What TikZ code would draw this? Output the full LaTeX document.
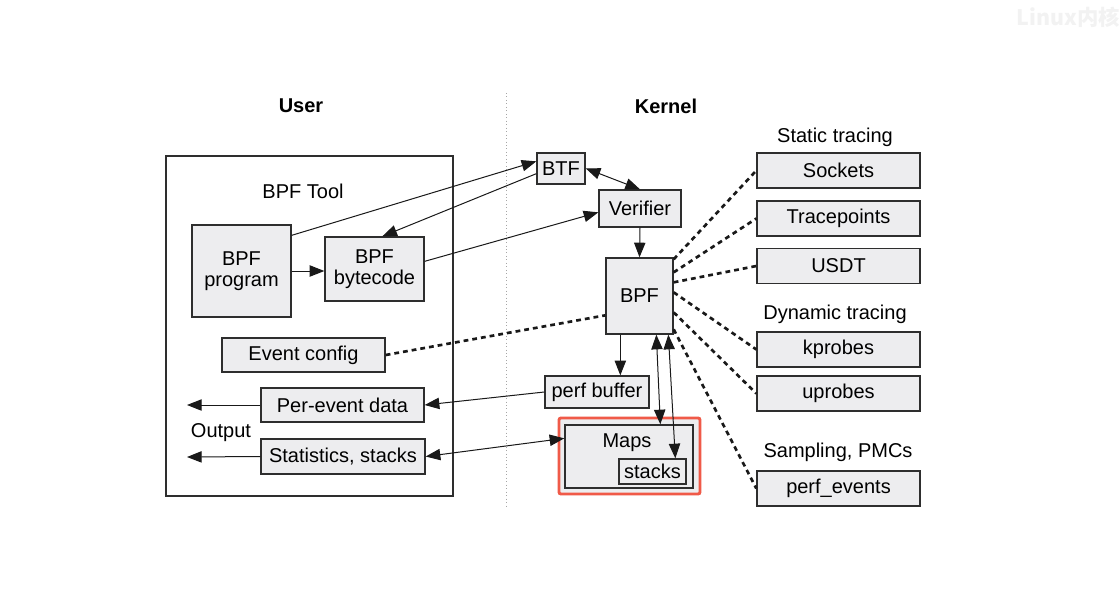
\documentclass[tikz,border=0pt]{standalone}
\usepackage{fontspec}
\setmainfont{Liberation Sans}
\newfontfamily\cjkfont{Noto Sans CJK SC}
\usetikzlibrary{arrows.meta,calc}
\definecolor{boxfill}{HTML}{EDEDEF}
\definecolor{boxline}{HTML}{2E2E2E}
\definecolor{hl}{HTML}{F05A48}
\definecolor{wm}{HTML}{F2F2F2}
\tikzset{
  box/.style={draw=boxline, fill=boxfill, line width=1pt, inner sep=0pt, align=center,
    font=\fontsize{15}{16}\selectfont},
  lbl/.style={inner sep=0pt, font=\fontsize{15}{16}\selectfont},
  conn/.style={line width=0.75pt, draw=black!90},
  tipend/.style={-{Triangle[length=11pt,width=8.5pt]}},
  tipboth/.style={{Triangle[length=11pt,width=8.5pt]}-{Triangle[length=11pt,width=8.5pt]}},
  probe/.style={line width=2pt, dash pattern=on 3.6pt off 3pt, draw=black!90},
  rbox/.style={box, minimum width=122.25pt, minimum height=26.25pt},
}
\begin{document}
\begin{tikzpicture}[x=0.75pt, y=-0.75pt]
\useasboundingbox (0,0) rectangle (1120,604);
\fill[white] (0,0) rectangle (1120,604);

% watermark
\node[anchor=east, inner sep=0pt, text=wm, font=\cjkfont\fontsize{16}{18}\selectfont\bfseries] (wmark) at (1120,17) {Linux内核};

% headings
\node[lbl, font=\fontsize{15}{16}\selectfont\bfseries] (user) at (301,106) {User};
\node[lbl, font=\fontsize{15}{16}\selectfont\bfseries] (kernel) at (666,106) {Kernel};

% divider
\coordinate (divtop) at (506,93);
\coordinate (divbot) at (506,508);
\draw[black!35, line width=0.6pt, dotted] (divtop) -- (divbot);

% BPF tool container
\node[draw=boxline, line width=1pt, fill=white, minimum width=215.25pt, minimum height=255pt, inner sep=0pt] (tool) at (309.5,326) {};
\node[lbl] (tooltitle) at (303,191) {BPF Tool};

\node[box, minimum width=74.25pt, minimum height=69pt] (prog) at (241.5,271) {BPF\\program};
\node[box, minimum width=74.25pt, minimum height=48pt] (bytecode) at (374.5,269) {BPF\\bytecode};
\node[box, minimum width=122.25pt, minimum height=25.5pt] (evcfg) at (303.5,355) {Event config};
\node[box, minimum width=122.25pt, minimum height=25.5pt] (perev) at (342.5,405) {Per-event data};
\node[box, minimum width=123pt, minimum height=26.25pt] (stats) at (343,456.5) {Statistics, stacks};
\node[lbl] (output) at (221,433) {Output};
\coordinate (out1) at (187,405);
\coordinate (out2) at (187,457);

% kernel side
\node[box, minimum width=36pt, minimum height=23.25pt] (btf) at (561,168.5) {BTF};
\node[box, minimum width=61.5pt, minimum height=27.75pt] (verifier) at (640,208.5) {Verifier};
\node[box, minimum width=50.25pt, minimum height=57pt] (bpf) at (639.5,296) {BPF};
\node[box, minimum width=78pt, minimum height=24pt] (perfbuf) at (597,392) {perf buffer};
\node[draw=hl, line width=2.2pt, rounded corners=1.5pt, fill=boxfill, minimum width=105.75pt, minimum height=57pt, inner sep=0pt] (mapsred) at (629.5,456) {};
\node[box, minimum width=96pt, minimum height=47.25pt] (maps) at (629,456.5) {};
\node[lbl] (mapslbl) at (627,443) {Maps};
\node[box, minimum width=50.25pt, minimum height=18.75pt] (stacks) at (652.5,471.5) {stacks};

% right side
\node[lbl] (statl) at (835,137) {Static tracing};
\node[rbox] (sockets) at (838.5,170.5) {Sockets};
\node[rbox] (tracep) at (838.5,218.5) {Tracepoints};
\node[rbox] (usdt) at (838.5,266) {USDT};
\node[lbl] (dynl) at (835,314) {Dynamic tracing};
\node[rbox] (kprobes) at (838.5,349.5) {kprobes};
\node[rbox] (uprobes) at (838.5,393.5) {uprobes};
\node[lbl] (sampl) at (838,452) {Sampling, PMCs};
\node[rbox] (perfev) at (838.5,488.5) {perf\_events};

% connectors
\draw[conn, tipend] ($(prog.north east)+(0,11)$) -- ($(btf.north west)+(0,9)$);
\draw[conn, tipend] ($(btf.south west)+(0,-11)$) -- ($(bytecode.north west)+(58,0)$);
\draw[conn, tipend] (prog.east) -- (prog.east -| bytecode.west);
\draw[conn, tipend] ($(bytecode.north east)+(0,25)$) -- ($(verifier.north west)+(0,23)$);
\draw[conn, tipboth] ($(btf.north east)+(0,16)$) -- (verifier.north);
\draw[conn, tipend] (verifier.south) -- (bpf.north);
\draw[conn, tipend] ($(bpf.south west)+(15,0)$) -- ($(perfbuf.north west)+(76,0)$);
\draw[conn, tipend] (perfbuf.west) -- (perev.east);
\draw[conn, tipboth] (stats.east) -- ($(maps.north west)+(0,14)$);
\draw[conn, tipboth] ($(bpf.south west)+(51,0)$) -- ($(maps.north west)+(96,0)$);
\draw[conn, tipboth] ($(bpf.south west)+(63,0)$) -- ($(stacks.north west)+(57,0)$);
\draw[conn, tipend] (perev.west) -- (out1);
\draw[conn, tipend] (stats.west) -- (out2);

% dashed probes
\draw[probe] (evcfg.east) -- ($(bpf.north west)+(0,58)$);
\draw[probe] ($(bpf.north east)+(0,2)$) -- (sockets.west);
\draw[probe] ($(bpf.north east)+(0,15)$) -- (tracep.west);
\draw[probe] ($(bpf.north east)+(0,25)$) -- (usdt.west);
\draw[probe] ($(bpf.north east)+(0,35)$) -- (kprobes.west);
\draw[probe] ($(bpf.north east)+(0,55)$) -- (uprobes.west);
\draw[probe] ($(bpf.north east)+(0,72)$) -- (perfev.west);
\end{tikzpicture}
\end{document}
